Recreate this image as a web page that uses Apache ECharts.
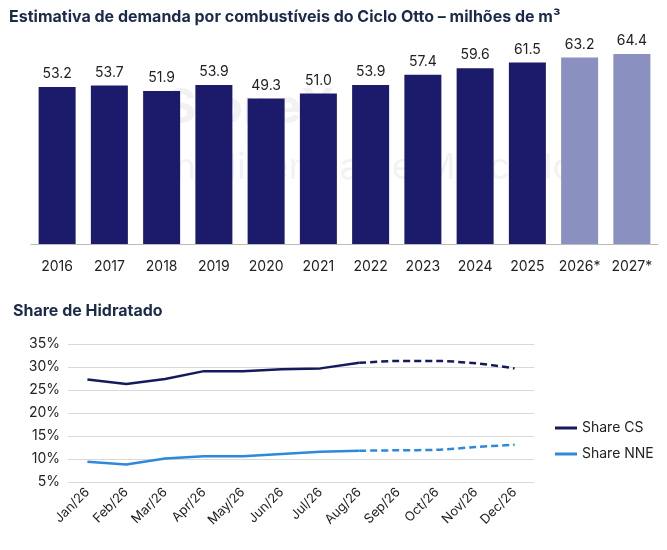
<!DOCTYPE html>
<html>
<head>
<meta charset="utf-8">
<script src="https://cdn.jsdelivr.net/npm/echarts@6/dist/echarts.min.js"></script>
<style>body{margin:0;background:#fff}#c{width:667px;height:550px}</style>
</head>
<body>
<div id="c"></div>
<script>
// 柱状图数据
const years = ['2016', '2017', '2018', '2019', '2020', '2021', '2022', '2023', '2024', '2025', '2026*', '2027*']
const demand = [53.2, 53.7, 51.9, 53.9, 49.3, 51.0, 53.9, 57.4, 59.6, 61.5, 63.2, 64.4]
// 折线图数据
const months = ['Jan/26', 'Feb/26', 'Mar/26', 'Apr/26', 'May/26', 'Jun/26', 'Jul/26', 'Aug/26', 'Sep/26', 'Oct/26', 'Nov/26', 'Dec/26']
const shareCS = [27.3, 26.3, 27.4, 29.1, 29.1, 29.5, 29.7, 30.9, 31.3, 31.3, 30.8, 29.7]
const shareNNE = [9.4, 8.8, 10.1, 10.6, 10.6, 11.1, 11.6, 11.8, 11.9, 12.0, 12.6, 13.1]
const lastActual = 7

const solid = arr => arr.map((v, i) => (i <= lastActual ? v : null))
const dashed = arr => arr.map((v, i) => (i >= lastActual ? v : null))
const font = 'Inter, "Noto Sans", sans-serif'
const navy = '#1b1a6b'
const cs = '#161a5c'
const nne = '#2e88db'

const chart = echarts.init(document.getElementById('c'))
chart.setOption({
  animation: false,
  textStyle: { fontFamily: font },
  title: [
    { text: 'Estimativa de demanda por combustíveis do Ciclo Otto – milhões de m³', left: 4, top: 4,
      textStyle: { fontSize: 16, fontWeight: 'bold', color: '#1b2a4a', fontFamily: font } },
    { text: 'Share de Hidratado', left: 8, top: 298,
      textStyle: { fontSize: 16, fontWeight: 'bold', color: '#1b2a4a', fontFamily: font } }
  ],
  graphic: [
    { type: 'text', left: 165, top: 85, style: { text: 'StoneX', fontSize: 48, fontWeight: 'bold', fill: 'rgba(0,0,0,0.05)', fontFamily: font } },
    { type: 'text', left: 165, top: 150, style: { text: 'Inteligência de Mercado', fontSize: 36, fill: 'rgba(0,0,0,0.05)', fontFamily: font } }
  ],
  legend: {
    orient: 'vertical', left: 550, top: 416, itemGap: 12, itemWidth: 22, itemHeight: 3,
    icon: 'rect', data: ['Share CS', 'Share NNE'],
    textStyle: { fontSize: 14, color: '#222', fontFamily: font }
  },
  grid: [
    { left: 31, right: 9, top: 8, bottom: 306 },
    { left: 68, right: 133, top: 344, bottom: 68 }
  ],
  xAxis: [
    { gridIndex: 0, type: 'category', data: years,
      axisTick: { show: false }, axisLine: { lineStyle: { color: '#bbb' } },
      axisLabel: { color: '#222', fontSize: 14, margin: 16, interval: 0 } },
    { gridIndex: 1, type: 'category', data: months, boundaryGap: true,
      axisTick: { show: false }, axisLine: { show: false },
      axisLabel: { color: '#222', fontSize: 13, rotate: 45, interval: 0, margin: 8 } }
  ],
  yAxis: [
    { gridIndex: 0, type: 'value', min: 0, max: 80, show: false, splitLine: { show: false } },
    { gridIndex: 1, type: 'value', min: 5, max: 35, interval: 5,
      axisLine: { show: false }, axisTick: { show: false },
      axisLabel: { formatter: '{value}%', color: '#222', fontSize: 14 },
      splitLine: { lineStyle: { color: '#d9d9d9' } } }
  ],
  series: [
    { type: 'bar', xAxisIndex: 0, yAxisIndex: 0, barWidth: 37,
      data: demand.map((v, i) => ({ value: v, itemStyle: { color: i >= 10 ? '#8a91c0' : navy } })),
      label: { show: true, position: 'top', color: '#222', fontSize: 14, distance: 6, formatter: p => p.value.toFixed(1) } },
    { name: 'Share CS', type: 'line', xAxisIndex: 1, yAxisIndex: 1, data: solid(shareCS), symbol: 'none',
      lineStyle: { color: cs, width: 2.5 }, itemStyle: { color: cs } },
    { type: 'line', xAxisIndex: 1, yAxisIndex: 1, data: dashed(shareCS), symbol: 'none', smooth: 0.3,
      lineStyle: { color: cs, width: 2.5, type: [7, 4] } },
    { name: 'Share NNE', type: 'line', xAxisIndex: 1, yAxisIndex: 1, data: solid(shareNNE), symbol: 'none',
      lineStyle: { color: nne, width: 2.5 }, itemStyle: { color: nne } },
    { type: 'line', xAxisIndex: 1, yAxisIndex: 1, data: dashed(shareNNE), symbol: 'none', smooth: 0.3,
      lineStyle: { color: nne, width: 2.5, type: [7, 4] } }
  ]
})
</script>
</body>
</html>
